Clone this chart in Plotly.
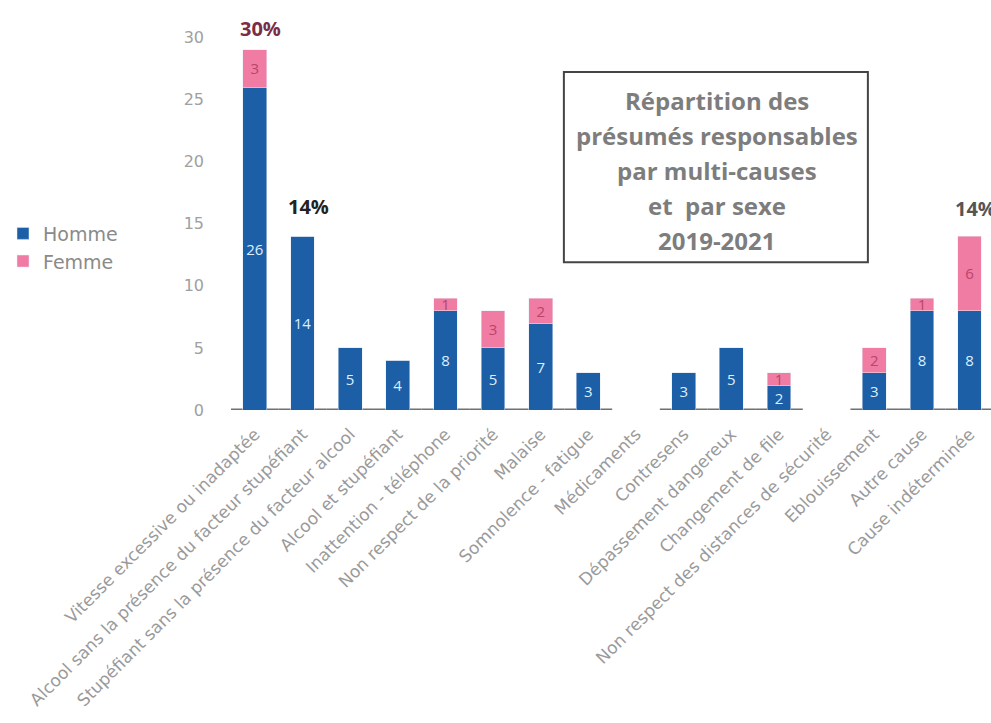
import plotly.graph_objects as go

# Causes of accidents (2019-2021), counts of presumed responsible drivers by sex
categories = [
    "Vitesse excessive ou inadaptée",
    "Alcool sans la présence du facteur stupéfiant",
    "Stupéfiant sans la présence du facteur alcool",
    "Alcool et stupéfiant",
    "Inattention - téléphone",
    "Non respect de la priorité",
    "Malaise",
    "Somnolence - fatigue",
    "Médicaments",
    "Contresens",
    "Dépassement dangereux",
    "Changement de file",
    "Non respect des distances de sécurité",
    "Eblouissement",
    "Autre cause",
    "Cause indéterminée",
]
homme = [26, 14, 5, 4, 8, 5, 7, 3, 0, 3, 5, 2, 0, 3, 8, 8]
femme = [3, 0, 0, 0, 1, 3, 2, 0, 0, 0, 0, 1, 0, 2, 1, 6]

# Share labels shown above selected bars
pct_labels = {0: "30%", 1: "14%", 15: "14%"}
pct_colors = {0: "#7a2d45", 1: "#222222", 15: "#555555"}
pct_shift = {0: 6, 1: 14, 15: 12}

title_lines = [
    "Répartition des",
    "présumés responsables",
    "par multi-causes",
    "et  par sexe",
    "2019-2021",
]

BLUE = "#1d5fa6"
PINK = "#f07ba3"
FONT = "Open Sans"
WIDE = "DejaVu Sans"

idx = list(range(len(categories)))

fig = go.Figure()
fig.add_trace(go.Bar(
    x=idx, y=homme, name="Homme", marker_color=BLUE, legendgroup="h",
    text=[str(v) if v else "" for v in homme],
    textposition="inside", insidetextanchor="middle",
    constraintext="none", textangle=0,
    textfont=dict(color="#dcefff", size=15, family=FONT),
    width=0.5,
))
fig.add_trace(go.Bar(
    x=idx, y=femme, name="Femme", marker_color=PINK, legendgroup="f",
    text=[str(v) if v else "" for v in femme],
    textposition="inside", insidetextanchor="middle",
    constraintext="none", textangle=0,
    textfont=dict(color="#b8456c", size=15, family=FONT),
    width=0.5,
))

# grey floor under each non-empty category
for i, (h, f) in enumerate(zip(homme, femme)):
    if h + f > 0:
        fig.add_shape(type="rect", xref="x", yref="y",
                      x0=i - 0.5, x1=i + 0.5, y0=-0.22, y1=0.12,
                      fillcolor="#707070", line_width=0, layer="below")

for i, lab in pct_labels.items():
    fig.add_annotation(
        x=i, y=homme[i] + femme[i], text=f"<b>{lab}</b>", showarrow=False,
        xanchor="center", yanchor="bottom", yshift=pct_shift[i], xshift=6,
        font=dict(size=20, color=pct_colors[i], family=FONT),
    )

# framed title block
fig.add_shape(type="rect", xref="paper", yref="paper",
              x0=0.438, x1=0.838, y0=0.384, y1=0.878,
              line=dict(color="#444444", width=2), fillcolor="white")
title_y = [0.803, 0.714, 0.623, 0.532, 0.441]
for line, ty in zip(title_lines, title_y):
    fig.add_annotation(
        xref="paper", yref="paper", x=0.639, y=ty,
        xanchor="center", yanchor="middle",
        text=f"<b>{line}</b>", showarrow=False,
        font=dict(size=24, color="#7d7d7d", family=FONT),
    )

fig.update_layout(
    width=991, height=723,
    margin=dict(l=231, r=0, t=25, b=313),
    paper_bgcolor="white", plot_bgcolor="white",
    barmode="stack",
    showlegend=True,
    legend=dict(x=-0.30, y=0.422, xanchor="left", yanchor="middle",
                traceorder="normal", tracegroupgap=14,
                font=dict(size=19, color="#8a8a8a", family=WIDE),
                itemwidth=30),
    font=dict(family=FONT),
)
fig.update_xaxes(
    range=[-0.5, 15.45], tickmode="array", tickvals=idx, ticktext=categories,
    tickangle=-45, tickfont=dict(size=17, color="#9a9a9a", family=WIDE),
    showgrid=False, zeroline=False, showline=False, ticks="",
    ticklabelstandoff=10,
)
fig.update_yaxes(
    range=[0, 31], tickmode="array", tickvals=[0, 5, 10, 15, 20, 25, 30],
    tickfont=dict(size=16, color="#a0a0a0", family=WIDE),
    showgrid=False, zeroline=False, showline=False, ticks="",
    ticklabelstandoff=26,
)

fig.write_html("out.html")
